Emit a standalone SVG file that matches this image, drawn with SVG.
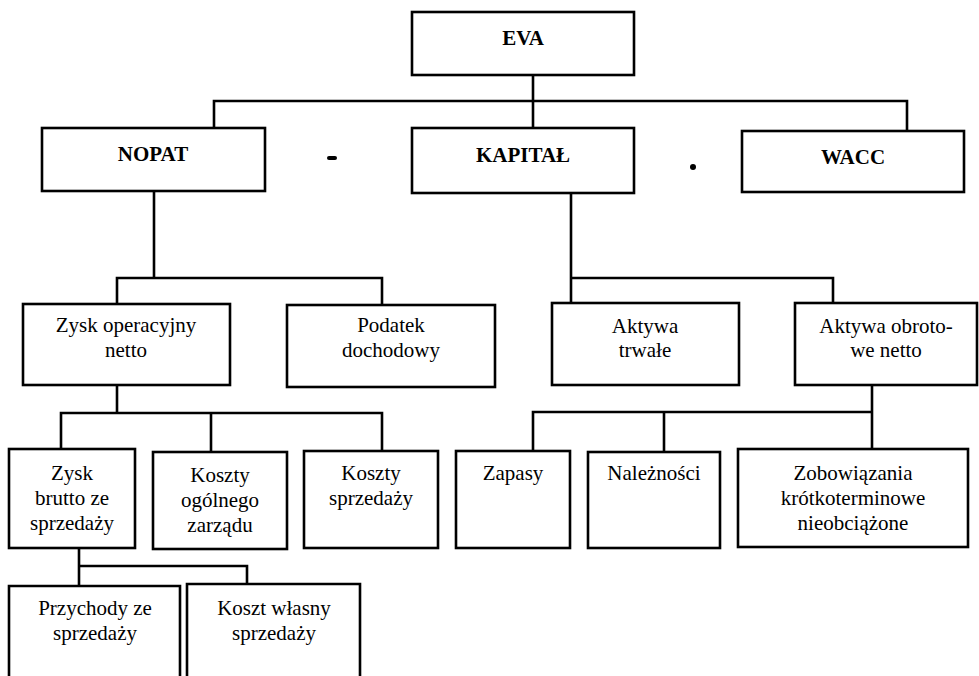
<svg xmlns="http://www.w3.org/2000/svg" width="979" height="676" viewBox="0 0 979 676">
<style>
.b{fill:#fff;stroke:#000;stroke-width:2.6}
.c{fill:none;stroke:#000;stroke-width:2.6}
text{font-family:"Liberation Serif","Times New Roman",serif;font-size:21px;fill:#000;text-anchor:middle}
.h{font-weight:bold}
</style>
<rect width="979" height="676" fill="#fff"/>
<g id="connectors">
<path class="c" d="M533,75 V128"/>
<path class="c" d="M214,128 V101 H907 V131"/>
<path class="c" d="M154,191 V278"/>
<path class="c" d="M117,304 V278 H382 V305"/>
<path class="c" d="M571,193 V303"/>
<path class="c" d="M571,278 H833 V303"/>
<path class="c" d="M117,385 V413"/>
<path class="c" d="M61,449 V413 H382 V451"/>
<path class="c" d="M211,413 V452"/>
<path class="c" d="M872,385 V449"/>
<path class="c" d="M533,451 V412 H872"/>
<path class="c" d="M664,412 V452"/>
<path class="c" d="M79,548 V586"/>
<path class="c" d="M79,566 H247 V584"/>
</g>
<g id="ops">
<rect x="327" y="156" width="10" height="4" rx="2" fill="#000"/>
<circle cx="693" cy="167" r="3" fill="#000"/>
</g>
<g id="eva"><rect class="b" x="412" y="12" width="222" height="63"/><text class="h" x="523" y="45">EVA</text></g>
<g id="nopat"><rect class="b" x="42" y="128" width="223" height="63"/><text class="h" x="153" y="161">NOPAT</text></g>
<g id="kapital"><rect class="b" x="412" y="128" width="222" height="65"/><text class="h" x="523" y="162">KAPITAŁ</text></g>
<g id="wacc"><rect class="b" x="742" y="131" width="222" height="61"/><text class="h" x="853" y="164">WACC</text></g>
<g id="zysk-op"><rect class="b" x="23" y="304" width="207" height="81"/><text x="126" y="332">Zysk operacyjny</text><text x="126" y="357">netto</text></g>
<g id="podatek"><rect class="b" x="287" y="305" width="208" height="82"/><text x="391" y="332">Podatek</text><text x="391" y="357">dochodowy</text></g>
<g id="aktywa-trwale"><rect class="b" x="552" y="303" width="187" height="82"/><text x="645" y="333">Aktywa</text><text x="645" y="357">trwałe</text></g>
<g id="aktywa-obrotowe"><rect class="b" x="795" y="303" width="182" height="82"/><text x="886" y="333">Aktywa obroto-</text><text x="886" y="357">we netto</text></g>
<g id="zysk-brutto"><rect class="b" x="9" y="449" width="126" height="99"/><text x="72" y="480">Zysk</text><text x="72" y="505">brutto ze</text><text x="72" y="530">sprzedaży</text></g>
<g id="koszty-zarzadu"><rect class="b" x="153" y="452" width="134" height="97"/><text x="220" y="482">Koszty</text><text x="220" y="507">ogólnego</text><text x="220" y="532">zarządu</text></g>
<g id="koszty-sprzedazy"><rect class="b" x="304" y="451" width="134" height="97"/><text x="371" y="480">Koszty</text><text x="371" y="505">sprzedaży</text></g>
<g id="zapasy"><rect class="b" x="456" y="451" width="114" height="97"/><text x="513" y="480">Zapasy</text></g>
<g id="naleznosci"><rect class="b" x="588" y="452" width="132" height="96"/><text x="654" y="480">Należności</text></g>
<g id="zobowiazania"><rect class="b" x="738" y="449" width="230" height="98"/><text x="853" y="480">Zobowiązania</text><text x="853" y="505">krótkoterminowe</text><text x="853" y="530">nieobciążone</text></g>
<g id="przychody"><path class="b" d="M9,677 V586 H180 V677"/><text x="95" y="615">Przychody ze</text><text x="95" y="640">sprzedaży</text></g>
<g id="koszt-wlasny"><path class="b" d="M187,677 V584 H360 V677"/><text x="274" y="615">Koszt własny</text><text x="274" y="640">sprzedaży</text></g>
</svg>
